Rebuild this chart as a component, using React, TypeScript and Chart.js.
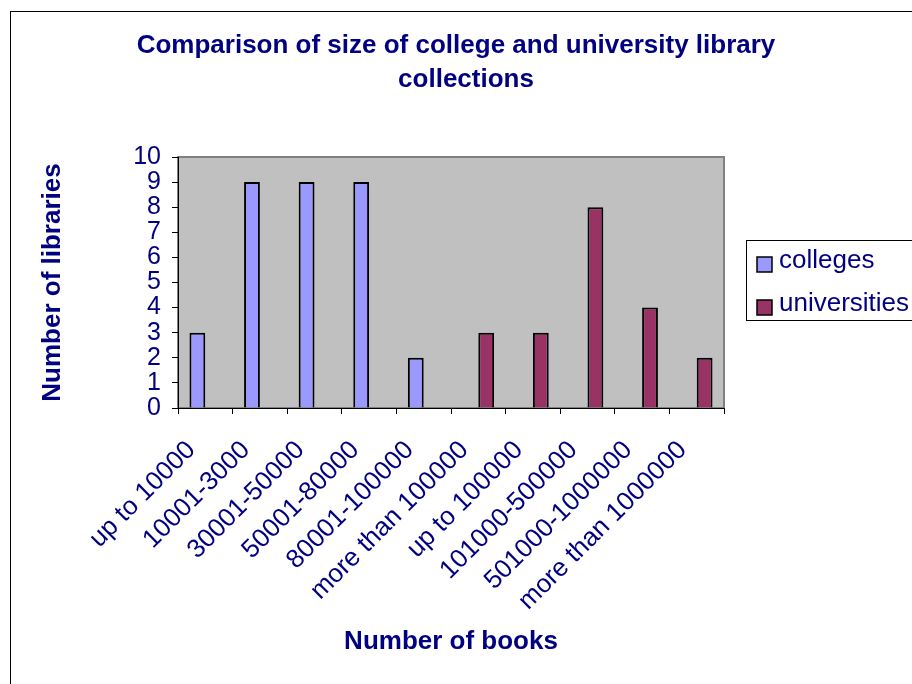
import { useEffect, useRef } from "react";
import { Chart, registerables } from "chart.js";

Chart.register(...registerables);

const categories = [
  "up to 10000",
  "10001-3000",
  "30001-50000",
  "50001-80000",
  "80001-100000",
  "more than 100000",
  "up to 100000",
  "101000-500000",
  "501000-1000000",
  "more than 1000000",
];

const colleges = [3, 9, 9, 9, 2, 0, null, null, null, null];
const universities = [null, null, null, null, null, 3, 3, 8, 4, 2];

const seriesNames = ["colleges", "universities"];
const seriesColors = ["#9999FF", "#993366"];

const titleLines = ["Comparison of size of college and university library", "collections"];
const xTitle = "Number of books";
const yTitle = "Number of libraries";

const FONT = '"Liberation Sans", Arial, sans-serif';
const NAVY = "#000080";

// Page frame, grey plot area, two-line title and boxed legend
const decorations = {
  id: "decorations",
  beforeDraw(chart: any) {
    const { ctx, chartArea: a } = chart;
    ctx.save();
    ctx.fillStyle = "#ffffff";
    ctx.fillRect(0, 0, chart.width, chart.height);
    ctx.strokeStyle = "#000000";
    ctx.lineWidth = 1;
    ctx.strokeRect(10.5, 11.5, chart.width + 20, chart.height + 20);
    ctx.fillStyle = "#C0C0C0";
    ctx.fillRect(a.left, a.top, a.right - a.left, a.bottom - a.top);
    ctx.strokeStyle = "#808080";
    ctx.lineWidth = 2;
    ctx.strokeRect(a.left, a.top, a.right - a.left, a.bottom - a.top);
    ctx.restore();
  },
  afterDraw(chart: any) {
    const { ctx } = chart;
    ctx.save();
    ctx.fillStyle = NAVY;
    ctx.font = `bold 26px ${FONT}`;
    ctx.textAlign = "center";
    ctx.textBaseline = "alphabetic";
    ctx.fillText(titleLines[0], 456, 53);
    ctx.fillText(titleLines[1], 466, 87);

    // legend
    ctx.strokeStyle = "#000000";
    ctx.lineWidth = 1;
    ctx.strokeRect(746.5, 240.5, 220, 80);
    const rows = [268, 311];
    chart.data.datasets.forEach((ds: any, i: number) => {
      const y = rows[i];
      ctx.fillStyle = ds.backgroundColor;
      ctx.fillRect(757, y - 11, 15, 15);
      ctx.lineWidth = 1.5;
      ctx.strokeRect(757, y - 11, 15, 15);
      ctx.fillStyle = NAVY;
      ctx.font = `26px ${FONT}`;
      ctx.textAlign = "left";
      ctx.fillText(ds.label, 779, y);
    });
    ctx.restore();
  },
};

export default function App() {
  const ref = useRef<HTMLCanvasElement | null>(null);

  useEffect(() => {
    if (!ref.current) return;
    const chart = new Chart(ref.current, {
      type: "bar",
      data: {
        labels: categories,
        datasets: [
          {
            label: seriesNames[0],
            data: colleges,
            backgroundColor: seriesColors[0],
            borderColor: "#000000",
            borderWidth: 2,
            categoryPercentage: 0.58,
            barPercentage: 1,
          },
          {
            label: seriesNames[1],
            data: universities,
            backgroundColor: seriesColors[1],
            borderColor: "#000000",
            borderWidth: 2,
            categoryPercentage: 0.58,
            barPercentage: 1,
          },
        ],
      },
      options: {
        responsive: false,
        animation: false,
        layout: { padding: { left: 0, top: 157, right: 188, bottom: 0 } },
        plugins: {
          legend: { display: false },
          title: { display: false },
          tooltip: { enabled: false },
        },
        scales: {
          x: {
            ticks: {
              color: NAVY,
              font: { family: FONT, size: 26 },
              minRotation: 45,
              maxRotation: 45,
              autoSkip: false,
              padding: 21,
              labelOffset: -14,
            },
            grid: {
              offset: true,
              drawOnChartArea: false,
              drawTicks: true,
              tickLength: 6,
              color: "#000000",
            },
            border: { display: true, color: "#000000", width: 1 },
            title: {
              display: true,
              text: xTitle,
              color: NAVY,
              font: { family: FONT, size: 26, weight: "bold" },
              padding: { top: 0, bottom: 27 },
            },
            afterFit(scale: any) {
              scale.height = 276;
            },
          },
          y: {
            min: 0,
            max: 10,
            ticks: {
              stepSize: 1,
              autoSkip: false,
              color: NAVY,
              font: { family: FONT, size: 25 },
              padding: 11,
            },
            grid: {
              drawOnChartArea: false,
              drawTicks: true,
              tickLength: 6,
              color: "#000000",
            },
            border: { display: true, color: "#000000", width: 1 },
            title: {
              display: true,
              text: yTitle,
              color: NAVY,
              font: { family: FONT, size: 26, weight: "bold" },
              padding: { top: 37, bottom: 0 },
            },
            afterFit(scale: any) {
              scale.width = 178;
            },
          },
        },
      },
      plugins: [decorations],
    } as any);
    return () => chart.destroy();
  }, []);

  return (
    <div style={{ position: "absolute", left: 0, top: 0, width: 912, height: 684 }}>
      <canvas ref={ref} width={912} height={684} />
    </div>
  );
}
